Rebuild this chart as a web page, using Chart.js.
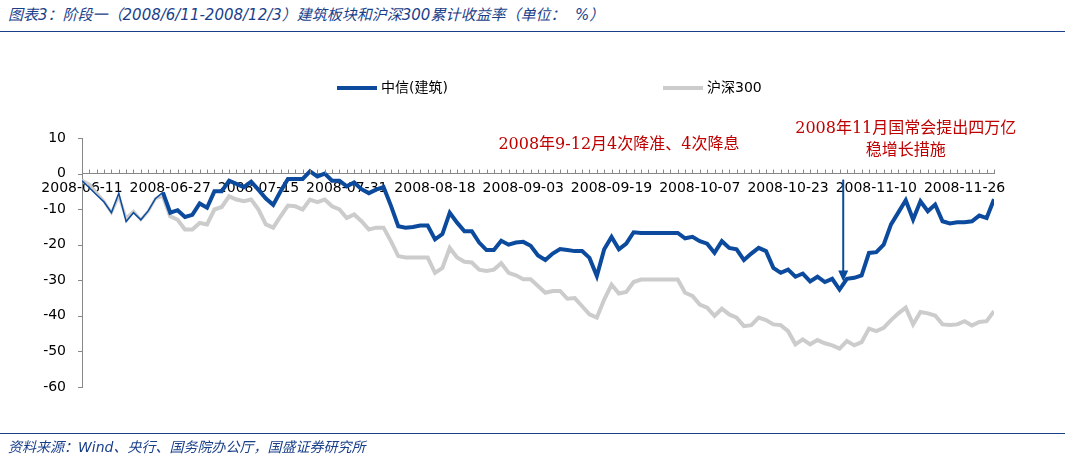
<!DOCTYPE html>
<html><head><meta charset="utf-8">
<script src="https://cdn.jsdelivr.net/npm/chart.js@4"></script>
<style>
body{margin:0;width:1065px;height:458px;position:relative;background:#fff;font-family:"DejaVu Sans","Noto Sans CJK SC",sans-serif;overflow:hidden}
#t{position:absolute;left:8px;top:3px;font-size:15px;font-style:italic;color:#1a3f8a}
#l1{position:absolute;left:0;top:31px;width:1065px;height:1px;background:#1a3f8a}
#l2{position:absolute;left:0;top:433px;width:1065px;height:1px;background:#1a3f8a}
#s{position:absolute;left:8px;top:436px;font-size:14px;font-style:italic;color:#1a3f8a}
#c{position:absolute;left:0;top:0}
</style></head><body>
<div id="t">图表3：阶段一（2008/6/11-2008/12/3）建筑板块和沪深300累计收益率（单位：&nbsp;&nbsp;%）</div>
<div id="l1"></div>
<canvas id="c" width="1065" height="458"></canvas>
<div id="l2"></div>
<div id="s">资料来源：Wind、央行、国务院办公厅，国盛证券研究所</div>
<script>
const tickLabels=["2008-06-11","2008-06-27","2008-07-15","2008-07-31","2008-08-18","2008-09-03","2008-09-19","2008-10-07","2008-10-23","2008-11-10","2008-11-26"];
const seriesNames=["中信(建筑)","沪深300"];
const construction=[-2,-4,-6,-8,-11,-5.5,-13.5,-11,-13,-10.5,-7,-5.3,-11,-10.3,-12.2,-11.6,-8.4,-9.6,-5,-5,-2,-2.9,-3.8,-2.3,-4.6,-7,-8.8,-5,-1.5,-1.5,-1.5,0.6,-0.8,0,-2,-2,-3.6,-2.5,-4.4,-5.5,-4.5,-3.8,-9,-14.8,-15.2,-15,-14.6,-14.6,-18.5,-17,-11,-13.8,-16.2,-16.2,-19.4,-21.5,-21.5,-18.9,-20,-19.4,-19.2,-20.3,-23,-24.3,-22.5,-21.2,-21.5,-21.8,-21.8,-23.7,-28.8,-21.3,-17.8,-21.3,-19.7,-16.5,-16.7,-16.7,-16.7,-16.7,-16.7,-16.7,-18.2,-17.8,-19,-19.7,-22.3,-19,-20.9,-21.3,-24.3,-22.5,-20.9,-21.8,-26.5,-27.9,-27,-29,-28.1,-30.3,-29,-30.5,-29.6,-32.6,-29.6,-29.3,-28.6,-22.3,-22.1,-20,-14.3,-10.9,-7.5,-12.9,-7.8,-10.6,-8.7,-13.4,-14,-13.7,-13.7,-13.4,-11.8,-12.5,-7.2];
const hs300=[-1.8,-3,-5.4,-7.8,-11,-6.4,-12.5,-10.6,-13,-10.6,-7,-6.4,-12,-13,-15.7,-15.7,-13.9,-14.3,-10.1,-9.4,-6.4,-7.3,-7.8,-7.3,-10.1,-14.3,-15.2,-12,-9,-9.2,-10.1,-7.3,-8,-7.3,-9.2,-10.1,-12.5,-11.5,-13.4,-15.7,-15.2,-15.2,-19,-23.2,-23.6,-23.6,-23.6,-23.6,-27.9,-26.5,-20.9,-23.6,-24.8,-25,-27,-27.4,-27,-25.2,-27.9,-28.6,-29.7,-29.7,-31.6,-33.5,-33,-33,-35.2,-35,-37.3,-39.6,-40.5,-35.4,-31.2,-33.7,-33.3,-30.5,-29.8,-29.8,-29.8,-29.8,-29.8,-29.8,-33.5,-34.4,-36.8,-37.7,-40,-38,-39.6,-40.5,-42.9,-42.6,-40.5,-41.2,-42.4,-42.6,-44.3,-48,-46.6,-48,-46.8,-47.7,-48.3,-49.2,-47.1,-48.3,-47.4,-43.6,-44.3,-43.4,-41.2,-39.3,-37.7,-42.4,-38.9,-39.3,-39.9,-42.4,-42.6,-42.4,-41.5,-42.7,-41.7,-41.5,-38.7];
const notes=[{i:73,v:8,lines:["2008年9-12月4次降准、4次降息"]},{i:112,v:12.5,lines:["2008年11月国常会提出四万亿","稳增长措施"]}];
const arrowAt={i:103.5,from:0,to:-32};
const thinUntil=11;
const blue="#0b4a9c",grey="#cccccc";
const pts=a=>a.map((v,i)=>({x:i,y:v}));
const extras={id:'extras',afterDraw(ch){
 const c=ch.ctx,x=ch.scales.x,y=ch.scales.y;
 c.save();
 c.font='14px "DejaVu Sans","Noto Sans CJK SC"';c.textBaseline='middle';c.fillStyle='#000';
 [[337,blue,seriesNames[0]],[663,grey,seriesNames[1]]].forEach(([lx,col,t])=>{c.strokeStyle=col;c.lineWidth=4;c.beginPath();c.moveTo(lx,88);c.lineTo(lx+40,88);c.stroke();c.fillText(t,lx+44,88);});
 c.fillStyle='#c00000';c.font='16px "DejaVu Serif","Noto Sans CJK SC"';c.textAlign='center';
 notes.forEach(n=>n.lines.forEach((l,k)=>c.fillText(l,x.getPixelForValue(n.i),y.getPixelForValue(n.v)+k*22)));
 const ax=x.getPixelForValue(arrowAt.i),y1=y.getPixelForValue(arrowAt.from)+6,y2=y.getPixelForValue(arrowAt.to)-6;
 c.strokeStyle=blue;c.fillStyle=blue;c.lineWidth=2;c.beginPath();c.moveTo(ax,y1);c.lineTo(ax,y2-10);c.stroke();
 c.beginPath();c.moveTo(ax-5,y2-11);c.lineTo(ax+5,y2-11);c.lineTo(ax,y2);c.closePath();c.fill();
 c.restore();}};
const seg={borderWidth:ctx=>ctx.p0DataIndex<thinUntil?1.5:4};
new Chart(document.getElementById('c'),{type:'line',
 data:{datasets:[
  {label:seriesNames[1],data:pts(hs300),borderColor:grey,borderWidth:4,pointRadius:0,tension:0,order:2,segment:{borderWidth:ctx=>ctx.p0DataIndex<thinUntil?3:4}},
  {label:seriesNames[0],data:pts(construction),borderColor:blue,borderWidth:4,pointRadius:0,tension:0,order:1,segment:seg}]},
 options:{responsive:false,animation:false,events:[],
  layout:{padding:{top:138,bottom:71,right:71,left:0}},
  plugins:{legend:{display:false},tooltip:{enabled:false}},
  scales:{
   x:{type:'linear',min:0,max:124,position:{y:0},grid:{display:false,drawTicks:false},border:{color:'#888'},
      afterBuildTicks(a){a.ticks=[];for(let i=0;i<=124;i++)a.ticks.push({value:i});},
      ticks:{autoSkip:false,maxRotation:0,padding:6,color:'#000',font:{family:'DejaVu Sans',size:14},callback:v=>v%12===0?tickLabels[v/12]:''},
      afterFit(a){a.height=0;}},
   y:{min:-60,max:10,grid:{display:false},border:{color:'#888'},
      ticks:{stepSize:10,color:'#000',padding:8,font:{family:'DejaVu Sans',size:14}},
      afterFit(a){a.width=82;}}}},
 plugins:[extras,{id:'tm',afterDraw(ch){const c=ch.ctx,x=ch.scales.x,y=ch.scales.y,y0=y.getPixelForValue(0);c.save();c.strokeStyle='#888';c.lineWidth=1;for(let i=0;i<=124;i++){const px=Math.round(x.getPixelForValue(i))+.5;c.beginPath();c.moveTo(px,y0-4);c.lineTo(px,y0);c.stroke();}for(let v=-60;v<=10;v+=10){const py=Math.round(y.getPixelForValue(v))+.5;c.beginPath();c.moveTo(x.left-4,py);c.lineTo(x.left,py);c.stroke();}c.restore();}}]
});
</script></body></html>
